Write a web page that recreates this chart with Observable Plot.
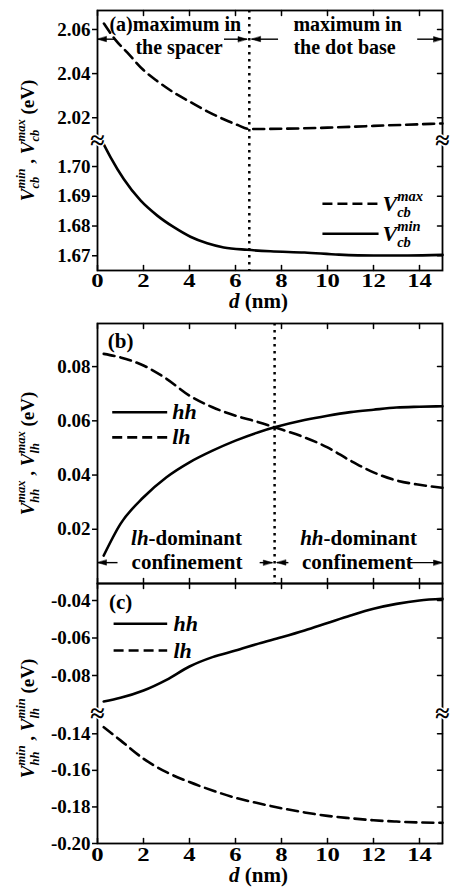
<!DOCTYPE html>
<html><head><meta charset="utf-8">
<script src="https://cdn.jsdelivr.net/npm/d3@7"></script>
<script src="https://cdn.jsdelivr.net/npm/@observablehq/plot@0.6"></script>
<style>
body{margin:0;background:#fff;}
#fig{position:relative;width:451px;height:891px;overflow:hidden;}
#fig svg{position:absolute;left:0;overflow:visible;}
</style></head><body><div id="fig"></div>
<script>
// ---------- data ----------
const ticksX = [0, 2, 4, 6, 8, 10, 12, 14];

// panel (a)
const dAmax = [0.28, 0.78, 1.29, 2.01, 2.6, 3.32, 4.04, 4.77, 5.49, 6.07, 6.6, 8, 10, 12, 15];
const vcbMax = [2.0627, 2.0553, 2.0496, 2.0415, 2.0366, 2.0314, 2.0271, 2.0229, 2.0193, 2.0168, 2.0149, 2.0150, 2.0155, 2.0163, 2.0174];
const dAmin = [0.25, 0.57, 1.14, 1.87, 2.6, 3.32, 4.04, 4.77, 5.49, 6.5, 7.52, 9, 10.5, 12, 13.5, 15];
const vcbMin = [1.7078, 1.7031, 1.6958, 1.6886, 1.6835, 1.6796, 1.6764, 1.6742, 1.6728, 1.6720, 1.6715, 1.6711, 1.6704, 1.6701, 1.6701, 1.6703];
const ticksA = [1.67, 1.68, 1.69, 1.70, 2.02, 2.04, 2.06];
const boundaryA = 6.6;

// panel (b)
const dB = [0.27, 1, 2, 3, 4, 5, 6, 7, 7.7, 9, 10, 11, 12, 13, 14, 15];
const lhMax = [0.0847, 0.0834, 0.0804, 0.0755, 0.0693, 0.0650, 0.0619, 0.0595, 0.0576, 0.0539, 0.0502, 0.0453, 0.0410, 0.0380, 0.0364, 0.0353];
const hhMax = [0.0103, 0.0220, 0.0318, 0.0392, 0.0447, 0.0490, 0.0527, 0.0558, 0.0576, 0.0603, 0.0619, 0.0632, 0.0641, 0.0649, 0.0652, 0.0654];
const ticksB = [0.02, 0.04, 0.06, 0.08];
const boundaryB = 7.7;

// panel (c)
const dC = [0.27, 1, 2, 3, 4, 5, 6, 7, 8, 9, 10, 11, 12, 13, 14, 15];
const hhMin = [-0.0939, -0.0919, -0.0880, -0.0823, -0.0752, -0.0702, -0.0667, -0.0630, -0.0596, -0.0560, -0.0520, -0.0480, -0.0444, -0.0418, -0.0400, -0.0391];
const lhMin = [-0.1364, -0.1436, -0.1536, -0.1610, -0.1664, -0.1710, -0.1750, -0.1780, -0.1807, -0.1830, -0.1849, -0.1862, -0.1873, -0.1880, -0.1885, -0.1887];
const ticksC = [-0.04, -0.06, -0.08, -0.14, -0.16, -0.18, -0.20];

// broken-axis ranges: [lower part], [upper part]
const breakA = [[1.66505, 1.70875], [2.00968, 2.0686]];
const breakC = [[-0.20, -0.1289], [-0.10027, -0.03093]];

// ---------- helpers ----------
const FONT = '"Liberation Serif", "Times New Roman", serif';
const rows = (xs, ys) => xs.map((x, i) => ({x, y: ys[i]}));
function brokenAxis([[l0, l1], [h0, h1]], B = 130, H = 260) {
  const mid = (l1 + h0) / 2;
  const T = v => v <= mid ? (v - l0) / (l1 - l0) * B : B + (v - h0) / (h1 - h0) * (H - B);
  T.invert = u => u <= B ? l0 + u / B * (l1 - l0) : h0 + (u - B) / (H - B) * (h1 - h0);
  T.gap = B; T.max = H;
  return T;
}
const identity = v => v; identity.invert = v => v;
const headShape = {draw(ctx, l) { ctx.moveTo(0, -l); ctx.lineTo(-2.6, 0); ctx.lineTo(2.6, 0); ctx.closePath(); }};
const tickShape = {draw(ctx, l) { ctx.moveTo(0, 0); ctx.lineTo(0, -l); }};

function frameAxes(ticksY, T) {
  return [
    Plot.frame({strokeWidth: 1.8}),
    Plot.axisY({ticks: ticksY.map(T), tickSize: 5, tickPadding: 2, tickFormat: u => T.invert(u).toFixed(2), label: null, strokeWidth: 1.5}),
    Plot.vector(ticksY, {y: d => T(d), frameAnchor: "right", rotate: -90, length: 5, anchor: "start", shape: tickShape, strokeWidth: 1.5}),
    Plot.vector(ticksX, {x: d => d, frameAnchor: "top", rotate: 180, length: 5, anchor: "start", shape: tickShape, strokeWidth: 1.5}),
    Plot.vector(ticksX, {x: d => d, frameAnchor: "bottom", rotate: 0, length: 5, anchor: "start", shape: tickShape, strokeWidth: 1.5})
  ];
}
function arrows(list, T) {
  return [
    Plot.link(list, {x1: "x1", x2: "x2", y1: d => T(d.y), y2: d => T(d.y), strokeWidth: 1.4}),
    Plot.vector(list, {x: "x2", y: d => T(d.y), rotate: d => d.x2 > d.x1 ? 90 : -90, length: 9, anchor: "end", shape: headShape, fill: "black", stroke: "black", strokeWidth: 0.5})
  ];
}
function legend(solid, dashed, T, fs) {
  return [
    Plot.link([solid], {x1: "x1", x2: "x2", y1: d => T(d.y), y2: d => T(d.y), strokeWidth: 2.6}),
    Plot.link([dashed], {x1: "x1", x2: "x2", y1: d => T(d.y), y2: d => T(d.y), strokeWidth: 2.6, strokeDasharray: "10,5"}),
    Plot.text([solid, dashed], {x: "tx", y: d => T(d.y), text: "label", textAnchor: "start", fontSize: fs})
  ];
}
function notes(list, T, anchor, fs = 21) {
  return Plot.text(list, {x: "x", y: d => T(d.y), text: "t", textAnchor: anchor, fontSize: fs});
}
function breakMarks(T) {
  return Plot.text([{x: 0}, {x: 15}], {x: "x", y: () => T.gap, text: () => "≈", fontSize: 26, stroke: "white", strokeWidth: 3, fill: "black"});
}
function yTitle(t, dy = 0) {
  return Plot.text([t], {frameAnchor: "left", rotate: -90, dx: -70, dy, text: d => d, textAnchor: "middle", fontSize: 19});
}
function dLabel(dy) {
  return Plot.text([{x: 7}], {x: "x", frameAnchor: "bottom", dy, text: () => "*d* (nm)", fontSize: 21});
}
const xLabels = pad => Plot.axisX({anchor: "bottom", ticks: ticksX, tickSize: 0, tickPadding: pad, label: null, className: "xticklab"});
const style = {background: "transparent", overflow: "visible", fontFamily: FONT, fontSize: "19px", fontWeight: "bold", color: "black"};

// ---------- panel (a) ----------
const TA = brokenAxis(breakA);
const plotA = Plot.plot({
  width: 451, height: 315, marginLeft: 97, marginRight: 9, marginTop: 10, marginBottom: 45,
  x: {domain: [0, 15], axis: null},
  y: {domain: [0, TA.max], axis: null},
  style,
  marks: [
    ...frameAxes(ticksA, TA),
    xLabels(3),
    Plot.ruleX([boundaryA], {strokeDasharray: "2.5,4.5", strokeWidth: 2.5}),
    Plot.line(rows(dAmax, vcbMax), {x: "x", y: d => TA(d.y), curve: "monotone-x", strokeWidth: 2.6, strokeDasharray: "11,6"}),
    Plot.line(rows(dAmin, vcbMin), {x: "x", y: d => TA(d.y), curve: "monotone-x", strokeWidth: 2.6}),
    ...legend(
      {x1: 9.78, x2: 12.22, tx: 12.39, y: 1.6774, label: "*V*_{cb}^{min}"},
      {x1: 9.78, x2: 12.22, tx: 12.39, y: 1.6875, label: "*V*_{cb}^{max}"}, TA, 22),
    notes([
      {x: 0.52, y: 2.0620, t: "(a)maximum in"},
      {x: 1.65, y: 2.0519, t: "the spacer"},
      {x: 8.52, y: 2.0620, t: "maximum in"},
      {x: 8.52, y: 2.0519, t: "the dot base"}
    ], TA, "start", 20),
    ...arrows([
      {x1: 0.75, x2: 0, y: 2.0556},
      {x1: 5.5, x2: 6.5, y: 2.0556},
      {x1: 7.85, x2: 6.7, y: 2.0556},
      {x1: 13.9, x2: 15, y: 2.0556}
    ], TA),
    breakMarks(TA),
    yTitle("*V*_{cb}^{min} , *V*_{cb}^{max} (eV)"),
    dLabel(37)
  ]
});

// ---------- panel (b) ----------
const TB = identity;
const plotB = Plot.plot({
  width: 451, height: 293, marginLeft: 97, marginRight: 9, marginTop: 33, marginBottom: 0,
  x: {domain: [0, 15], axis: null},
  y: {domain: [0, 0.0959], axis: null},
  style,
  marks: [
    ...frameAxes(ticksB, TB),
    Plot.ruleX([boundaryB], {strokeDasharray: "2.5,4.5", strokeWidth: 2.5}),
    Plot.line(rows(dB, lhMax), {x: "x", y: "y", curve: "monotone-x", strokeWidth: 2.6, strokeDasharray: "11,6"}),
    Plot.line(rows(dB, hhMax), {x: "x", y: "y", curve: "monotone-x", strokeWidth: 2.6}),
    ...legend(
      {x1: 0.64, x2: 3.03, tx: 3.25, y: 0.06314, label: "*hh*"},
      {x1: 0.64, x2: 3.03, tx: 3.25, y: 0.05391, label: "*lh*"}, TB, 22),
    notes([{x: 0.45, y: 0.0894, t: "(b)"}], TB, "start"),
    notes([
      {x: 3.87, y: 0.01657, t: "*lh*-dominant"},
      {x: 3.89, y: 0.0077, t: "confinement"},
      {x: 11.35, y: 0.01657, t: "*hh*-dominant"},
      {x: 11.3, y: 0.0077, t: "confinement"}
    ], TB, "middle"),
    ...arrows([
      {x1: 0.87, x2: 0, y: 0.0077},
      {x1: 7.05, x2: 7.6, y: 0.0077},
      {x1: 8.3, x2: 7.8, y: 0.0077},
      {x1: 13.5, x2: 15, y: 0.0077}
    ], TB),
    yTitle("*V*_{hh}^{max} , *V*_{lh}^{max} (eV)")
  ]
});

// ---------- panel (c) ----------
const TC = brokenAxis(breakC);
const plotC = Plot.plot({
  width: 451, height: 308, marginLeft: 97, marginRight: 9, marginTop: 0, marginBottom: 48,
  x: {domain: [0, 15], axis: null},
  y: {domain: [0, TC.max], axis: null},
  style,
  marks: [
    ...frameAxes(ticksC, TC),
    xLabels(4),
    Plot.line(rows(dC, hhMin), {x: "x", y: d => TC(d.y), curve: "monotone-x", strokeWidth: 2.6}),
    Plot.line(rows(dC, lhMin), {x: "x", y: d => TC(d.y), curve: "monotone-x", strokeWidth: 2.6, strokeDasharray: "11,6"}),
    ...legend(
      {x1: 0.7, x2: 3.03, tx: 3.3, y: -0.05243, label: "*hh*"},
      {x1: 0.7, x2: 3.03, tx: 3.3, y: -0.06667, label: "*lh*"}, TC, 22),
    notes([{x: 0.5, y: -0.0411, t: "(c)"}], TC, "start"),
    breakMarks(TC),
    yTitle("*V*_{hh}^{min} , *V*_{lh}^{min} (eV)", 5),
    dLabel(38)
  ]
});

const fig = document.getElementById("fig");
[[plotA, 0], [plotB, 290], [plotC, 583]].forEach(([p, top]) => { p.style.top = top + "px"; fig.appendChild(p); });

// ---------- rich text (italic, sub/superscripts) ----------
function parseRich(s) {
  const re = /_\{([^}]*)\}|\^\{([^}]*)\}|\*([^*]*)\*|([^_^*]+)/g; let m; const out = [];
  while ((m = re.exec(s))) {
    if (m[1] !== undefined) out.push({t: m[1], sub: true, i: true});
    else if (m[2] !== undefined) out.push({t: m[2], sup: true, i: true});
    else if (m[3] !== undefined) out.push({t: m[3], i: true});
    else out.push({t: m[4]});
  }
  return out;
}
function applyRich(el) {
  const s = el.textContent;
  if (!/[*_^]/.test(s)) return;
  const toks = parseRich(s);
  const base = parseFloat(getComputedStyle(el).fontSize) || 19;
  el.textContent = "";
  let shift = 0, subW = 0, supW = 0, prev = null;
  toks.forEach(tok => {
    const ts = document.createElementNS("http://www.w3.org/2000/svg", "tspan");
    ts.textContent = tok.t;
    if (tok.i) ts.setAttribute("font-style", "italic");
    let target = 0;
    if (tok.sub || tok.sup) { ts.setAttribute("font-size", (0.66 * base).toFixed(1)); target = tok.sub ? 0.3 * base : -0.45 * base; }
    const dy = target - shift; if (dy) ts.setAttribute("dy", dy.toFixed(2)); shift = target;
    if (tok.sup && prev === "sub") ts.setAttribute("dx", (-subW).toFixed(2));
    if (!tok.sub && !tok.sup && prev === "sup" && subW > supW) ts.setAttribute("dx", (subW - supW).toFixed(2));
    el.appendChild(ts);
    const w = ts.getComputedTextLength();
    if (tok.sub) subW = w; else if (tok.sup) supW = w; else { subW = 0; supW = 0; }
    prev = tok.sub ? "sub" : tok.sup ? "sup" : "n";
  });
}
fig.querySelectorAll("svg text").forEach(applyRich);

// x tick labels of the reference are set wider than the other numerals
fig.querySelectorAll(".xticklab text").forEach(t => {
  const tr = t.getAttribute("transform");
  if (tr) {
    t.setAttribute("transform", tr + " scale(1.3,1)");
  } else {
    const x = +t.getAttribute("x") || 0, y = +t.getAttribute("y") || 0;
    t.setAttribute("transform", `translate(${x},${y}) scale(1.3,1) translate(${-x},${-y})`);
  }
});
</script></body></html>
